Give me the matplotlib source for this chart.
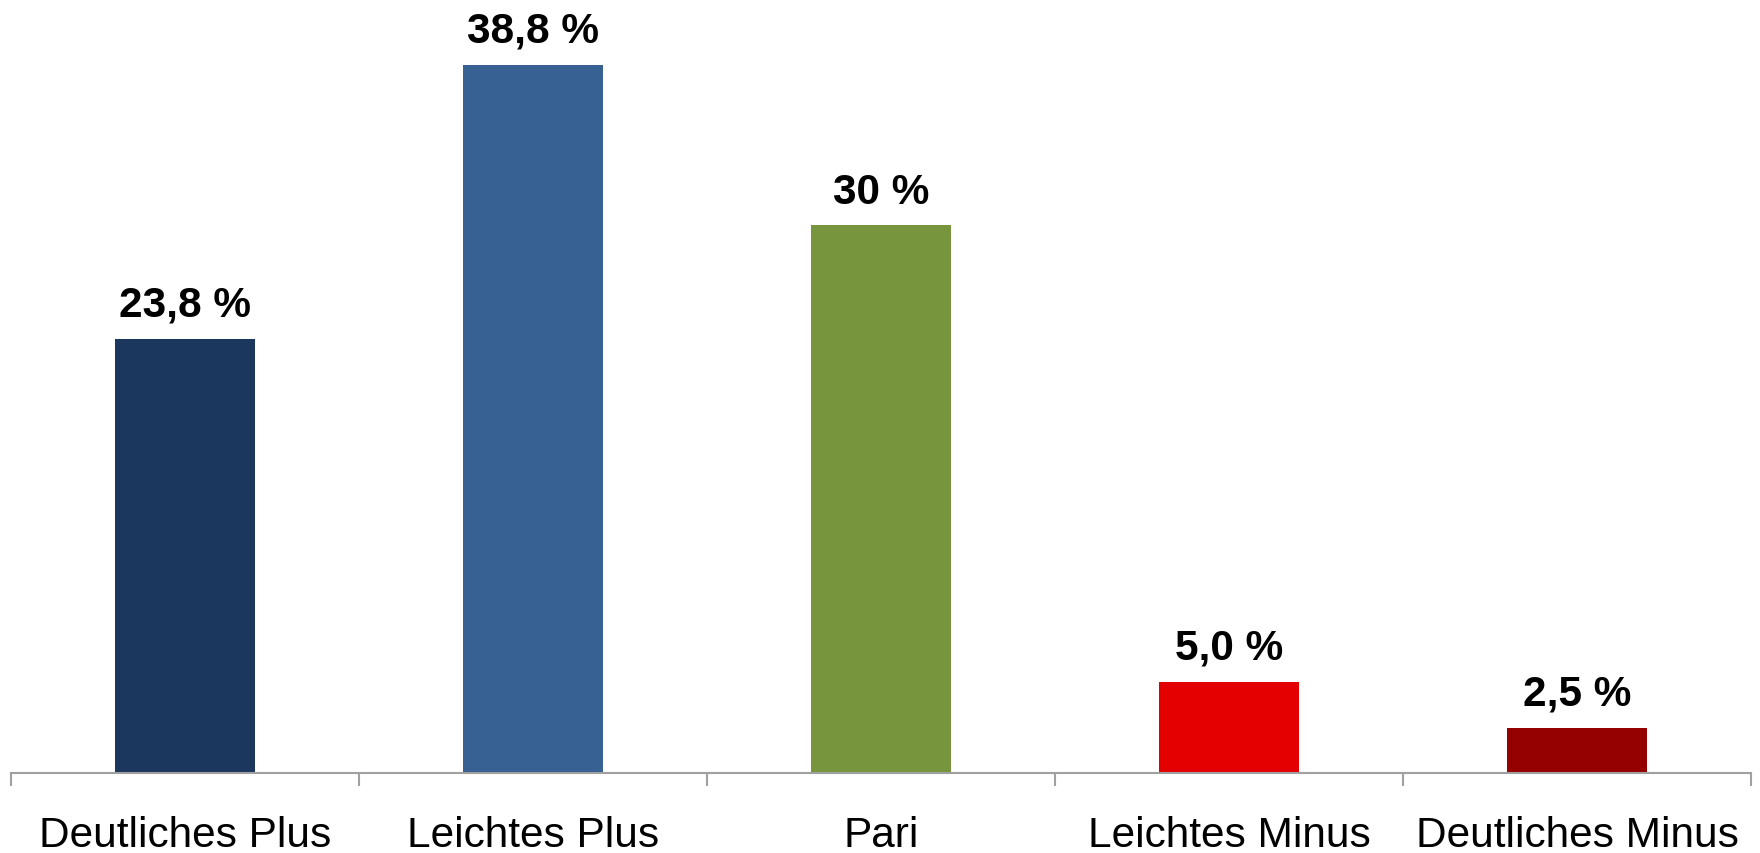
import matplotlib.pyplot as plt
import numpy as np

plt.rcParams['font.family'] = ['Liberation Sans', 'DejaVu Sans']

categories = ['Deutliches Plus', 'Leichtes Plus', 'Pari', 'Leichtes Minus', 'Deutliches Minus']
values = [23.8, 38.8, 30.0, 5.0, 2.5]
value_labels = ['23,8 %', '38,8 %', '30 %', '5,0 %', '2,5 %']
colors = ['#1C375E', '#366192', '#77953D', '#E50000', '#950000']

fig = plt.figure(figsize=(17.6, 8.54), dpi=100)
ax = fig.add_axes([0.00625, 0.0935, 0.98865, 0.9065])

x = np.arange(len(categories))
bars = ax.bar(x, values, width=0.4, color=colors)

for xi, v, lab in zip(x, values, value_labels):
    ax.annotate(lab, (xi, v), xytext=(0, 10), textcoords='offset points',
                ha='center', va='bottom', fontsize=30.5, fontweight='bold')

ax.set_xlim(-0.5, len(categories) - 0.5)
ax.set_ylim(0, 42.4)

ax.set_xticks(x)
ax.set_xticklabels(categories, fontsize=30.5)
ax.tick_params(axis='x', which='major', length=0, pad=30)
ax.set_xticks(np.arange(-0.5, len(categories)), minor=True)
ax.tick_params(axis='x', which='minor', length=9, width=1.5, color='#A0A0A0')

ax.set_yticks([])
for s in ['top', 'right', 'left']:
    ax.spines[s].set_visible(False)
ax.spines['bottom'].set_color('#A0A0A0')
ax.spines['bottom'].set_linewidth(1.5)

fig.savefig('out.png', dpi=100)
